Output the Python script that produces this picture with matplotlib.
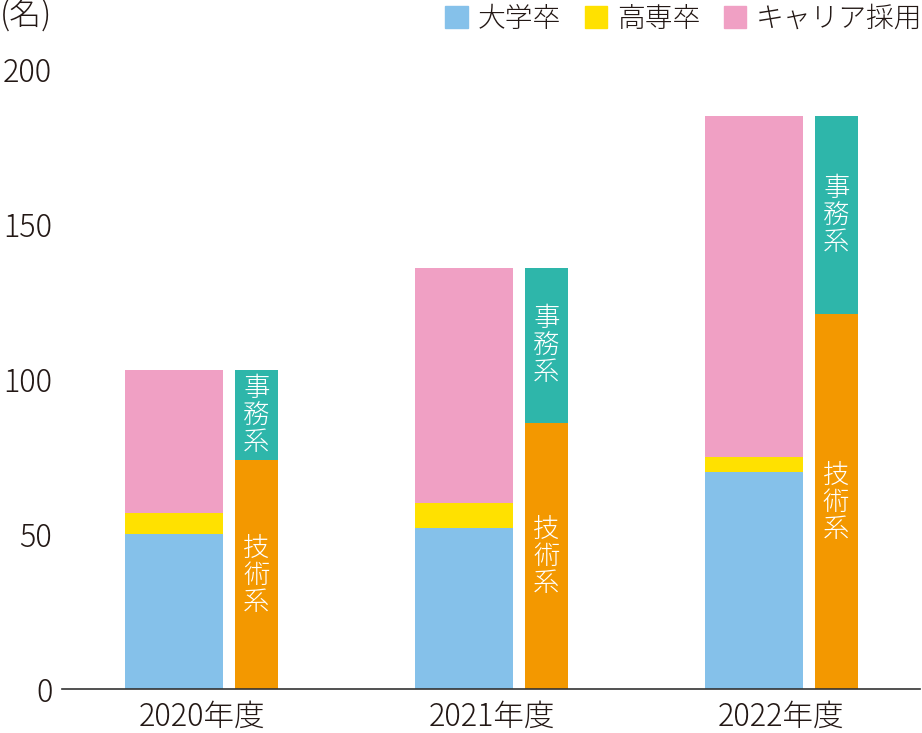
import matplotlib
matplotlib.use("Agg")
import matplotlib.pyplot as plt
from matplotlib.patches import Patch
import numpy as np

plt.rcParams['font.family'] = ['Noto Sans CJK JP', 'DejaVu Sans']

years = ["2020年度", "2021年度", "2022年度"]
daigaku = [50, 52, 70]      # 大学卒
kosen = [7, 8, 5]           # 高専卒
career = [46, 76, 110]      # キャリア採用
gijutsu = [74, 86, 121]     # 技術系
jimu = [29, 50, 64]         # 事務系
yticks = [0, 50, 100, 150, 200]

c_blue = "#85C1EA"
c_yellow = "#FFE100"
c_pink = "#F0A0C4"
c_teal = "#2EB6AA"
c_orange = "#F39800"
txt = "#231815"

fig = plt.figure(figsize=(9.22, 7.33), dpi=100)
ax = fig.add_axes([62/922, 43.7/733, 858/922, 620/733])

x = np.arange(len(years))
off1, w1 = -0.095, 0.336
off2, w2 = 0.189, 0.148

d = np.array(daigaku); k = np.array(kosen); c = np.array(career)
g = np.array(gijutsu); j = np.array(jimu)

ax.bar(x + off1, d, w1, color=c_blue, label="大学卒")
ax.bar(x + off1, k, w1, bottom=d, color=c_yellow, label="高専卒")
ax.bar(x + off1, c, w1, bottom=d + k, color=c_pink, label="キャリア採用")
ax.bar(x + off2, g, w2, color=c_orange)
ax.bar(x + off2, j, w2, bottom=g, color=c_teal)

for i in range(len(years)):
    ax.text(x[i] + off2, g[i] / 2, "技\n術\n系", ha='center', va='center',
            color='white', fontsize=19, linespacing=0.95, fontweight='light')
    ax.text(x[i] + off2, g[i] + j[i] / 2, "事\n務\n系", ha='center', va='center',
            color='white', fontsize=19, linespacing=0.95, fontweight='light')

ax.set_xlim(-0.481, 2.478)
ax.set_ylim(0, 200)
ax.set_yticks(yticks)
ax.set_yticklabels([str(v) for v in yticks])
ax.set_xticks(x)
ax.set_xticklabels(years)
for s in ['top', 'right', 'left']:
    ax.spines[s].set_visible(False)
ax.spines['bottom'].set_color('#333333')
ax.spines['bottom'].set_linewidth(1.2)
ax.tick_params(axis='y', length=0, pad=7, labelsize=22, labelcolor=txt)
ax.tick_params(axis='x', length=0, pad=8, labelsize=22, labelcolor=txt)
for lab in ax.get_xticklabels() + ax.get_yticklabels():
    lab.set_fontweight('light')

fig.text(0.0, 1 - 16/733, "(名)", ha='left', va='center', fontsize=23,
         color=txt, fontweight='light')

handles = [Patch(color=c_blue, label="大学卒"),
           Patch(color=c_yellow, label="高専卒"),
           Patch(color=c_pink, label="キャリア採用")]
leg = fig.legend(handles=handles, loc='upper right', bbox_to_anchor=(1.0 + 17/922, 1.0 + 12/733),
                 ncol=3, frameon=False, fontsize=20, handlelength=0.8, handleheight=0.8,
                 handletextpad=0.36, columnspacing=0.85, borderaxespad=0.2)
for t in leg.get_texts():
    t.set_color(txt)
    t.set_fontweight('light')

fig.savefig("out.png", dpi=100)
